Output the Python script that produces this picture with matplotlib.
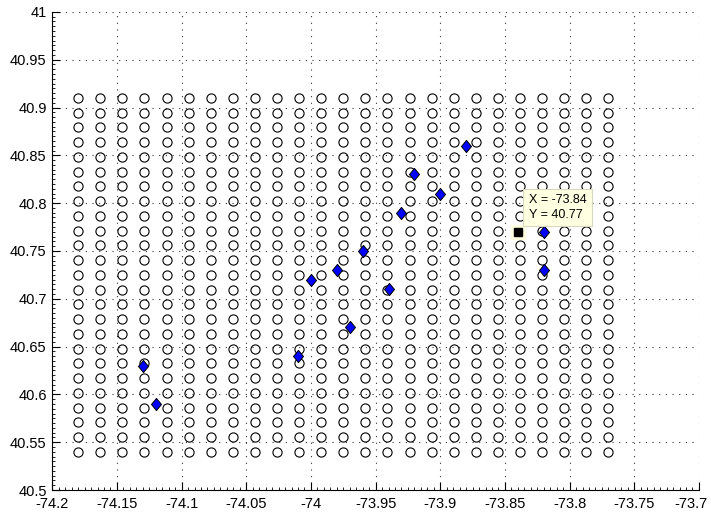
import numpy as np
import matplotlib
matplotlib.use("Agg")
import matplotlib.pyplot as plt
from matplotlib.ticker import MultipleLocator, FuncFormatter, AutoMinorLocator

plt.rcParams['font.family'] = ['Liberation Sans', 'DejaVu Sans']
plt.rcParams['axes.unicode_minus'] = False
plt.rcParams['lines.scale_dashes'] = False

# grid of candidate locations
grid_lon = np.linspace(-74.18, -73.77, 25)
grid_lat = np.linspace(40.54, 40.91, 25)

# selected sites (blue diamonds)
site_lon = [-74.13, -74.12, -74.01, -74.00, -73.98, -73.97, -73.96, -73.94,
            -73.93, -73.92, -73.90, -73.88, -73.82, -73.82]
site_lat = [40.63, 40.59, 40.64, 40.72, 40.73, 40.67, 40.75, 40.71,
            40.79, 40.83, 40.81, 40.86, 40.77, 40.73]

# data tip point
tip_lon = -73.84
tip_lat = 40.77

xlim = (-74.2, -73.7)
ylim = (40.5, 41.0)

fig = plt.figure(figsize=(7.11, 5.13), dpi=100)
ax = fig.add_axes([0.0735, 0.0448, 0.9095, 0.932])

GX, GY = np.meshgrid(grid_lon, grid_lat)
ax.plot(GX.ravel(), GY.ravel(), linestyle='none', marker='o', ms=6.6,
        mfc='none', mec='black', mew=0.8, zorder=3)

diamond = [(0, 1), (0.82, 0), (0, -1), (-0.82, 0), (0, 1)]
ax.plot(site_lon, site_lat, linestyle='none', marker=diamond, ms=8.8,
        mfc='#0000FF', mec='black', mew=0.7, zorder=4)

# data tip
ax.plot([tip_lon], [tip_lat], linestyle='none', marker='s', ms=9.5,
        mfc='#FFFFE1', mec='#FFFFE1', zorder=5)
ax.plot([tip_lon], [tip_lat], linestyle='none', marker='s', ms=6.2,
        mfc='black', mec='black', zorder=6)
ax.annotate(f"X = {tip_lon:.2f}\nY = {tip_lat:.2f}", xy=(tip_lon, tip_lat),
            xytext=(8, 8), textcoords='offset points', ha='left', va='bottom',
            fontsize=9, linespacing=1.25, zorder=7,
            bbox=dict(boxstyle='square,pad=0.45', fc='#FFFFE1', ec='#D8D8C0', lw=0.8))

ax.set_xlim(*xlim)
ax.set_ylim(*ylim)
ax.xaxis.set_major_locator(MultipleLocator(0.05))
ax.yaxis.set_major_locator(MultipleLocator(0.05))
ax.xaxis.set_minor_locator(AutoMinorLocator(10))
ax.yaxis.set_minor_locator(AutoMinorLocator(10))


def gfmt(v):
    return '%g' % round(v, 4)


ax.xaxis.set_major_formatter(FuncFormatter(
    lambda v, p: '' if abs(v - xlim[1]) < 1e-9 else gfmt(v)))
ax.yaxis.set_major_formatter(FuncFormatter(lambda v, p: gfmt(v)))

for s in ['top', 'right']:
    ax.spines[s].set_visible(False)
for s in ['left', 'bottom']:
    ax.spines[s].set_linewidth(0.8)

ax.tick_params(which='major', direction='in', length=6, width=0.8, labelsize=10.5)
ax.tick_params(axis='x', which='major', pad=5)
ax.tick_params(axis='y', which='major', pad=4)
ax.tick_params(which='minor', direction='in', length=2.5, width=0.6)

# last x tick label, nudged left so it stays inside the figure (as in the reference)
ax.annotate(gfmt(xlim[1]), xy=(xlim[1], 0), xycoords=('data', 'axes fraction'),
            xytext=(-6, -5), textcoords='offset points', ha='center', va='top',
            fontsize=10.5, annotation_clip=False)

ax.grid(True, which='major', color='#333333', linewidth=0.8,
        linestyle=(0, (0.8, 4.0)))
ax.set_axisbelow(True)

fig.savefig('out.png', dpi=100)
